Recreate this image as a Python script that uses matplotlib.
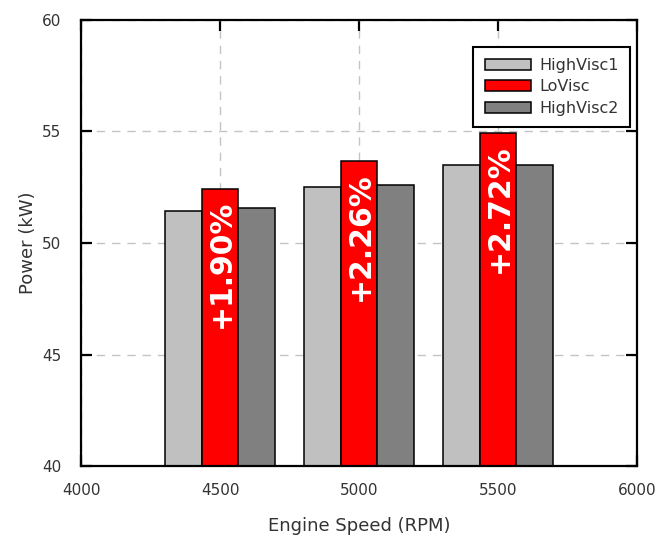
import numpy as np
import matplotlib.pyplot as plt

# Engine power at three speeds for each oil
speeds = [4500, 5000, 5500]
high_visc1 = [51.45, 52.50, 53.48]
lo_visc = [52.43, 53.69, 54.93]
high_visc2 = [51.55, 52.60, 53.51]
gain_labels = ['+1.90%', '+2.26%', '+2.72%']

x_ticks = [4000, 4500, 5000, 5500, 6000]
y_ticks = [40, 45, 50, 55, 60]

fig = plt.figure(figsize=(6.56, 5.37), dpi=100)
ax = fig.add_axes([0.1235, 0.1322, 0.8475, 0.8306])

x = np.array(speeds)
w = 133
series = [
    (high_visc1, -w, '#c0c0c0', 'HighVisc1'),
    (lo_visc, 0, '#ff0000', 'LoVisc'),
    (high_visc2, w, '#808080', 'HighVisc2'),
]
for vals, off, col, name in series:
    ax.bar(x + off, np.array(vals) - 40, width=w, bottom=40, color=col,
           edgecolor='black', linewidth=1.1, label=name, zorder=2)

# percentage gain written down the red bars
for xi, yi, txt in zip(speeds, lo_visc, gain_labels):
    ax.annotate(txt, (xi, yi), xytext=(1, -8), textcoords='offset points',
                rotation=90, ha='center', va='top', color='white',
                fontsize=21.5, fontweight='bold', zorder=4)

ax.set_xlim(4000, 6000)
ax.set_ylim(40, 60)
ax.set_xticks(x_ticks)
ax.set_yticks(y_ticks)
ax.grid(True, color='#c4c4c4', linestyle=(0, (6, 5)), linewidth=1.0, zorder=0)
ax.set_axisbelow(True)

for sp in ax.spines.values():
    sp.set_linewidth(1.6)
    sp.set_zorder(5)
ax.tick_params(direction='in', length=8, width=1.6, top=True, right=True,
               labelsize=11, labelcolor='#333333')
ax.tick_params(axis='y', pad=14)
ax.tick_params(axis='x', pad=12)
for t in ax.xaxis.get_major_ticks() + ax.yaxis.get_major_ticks():
    t.tick1line.set_zorder(5)
    t.tick2line.set_zorder(5)

ax.set_xlabel('Engine Speed (RPM)', fontsize=13, color='#333333', labelpad=14)
ax.set_ylabel('Power (kW)', fontsize=13, color='#333333', labelpad=4)

leg = ax.legend(loc='upper right', bbox_to_anchor=(0.988, 0.94),
                borderaxespad=0, fancybox=False, framealpha=1,
                edgecolor='black', fontsize=11.5, handlelength=2.9,
                handleheight=0.7, labelspacing=0.4, borderpad=0.7,
                handletextpad=0.55)
leg.get_frame().set_linewidth(1.5)
for t in leg.get_texts():
    t.set_color('#333333')

fig.savefig('out.png', dpi=100)
